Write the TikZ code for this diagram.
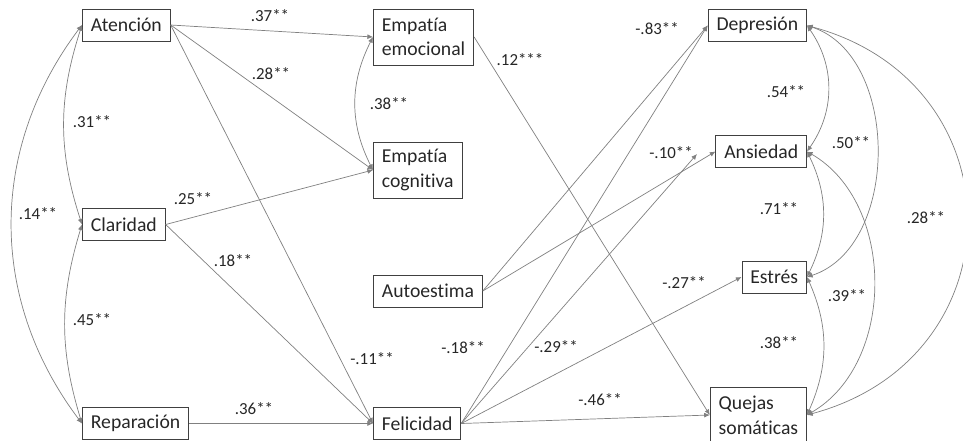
\documentclass[tikz,border=0pt]{standalone}
\usepackage{fontspec}
\setmainfont{Carlito}[Ligatures=NoCommon]
\usetikzlibrary{arrows.meta}
\definecolor{linegray}{HTML}{808080}
\definecolor{boxgray}{HTML}{404040}
\begin{document}
\begin{tikzpicture}[x=0.025cm,y=-0.025cm,
    box/.style={draw=boxgray, line width=0.6pt, inner xsep=6pt, minimum height=0.8cm, text=black!85, font=\fontsize{14}{17.5}\selectfont},
    box2/.style={box, align=left, minimum height=1.4cm},
    lab/.style={inner sep=0pt, text=black!85, font=\fontsize{12}{14}\selectfont},
    regarrow/.style={draw=linegray, line width=0.5pt, -{Latex[length=4pt,width=3.5pt]}},
    corarrow/.style={draw=linegray, line width=0.5pt, {Latex[length=4pt,width=3.5pt]}-{Latex[length=4pt,width=3.5pt]}}]
    \useasboundingbox (0,0) rectangle (963,441);
    \node[box, anchor=west] (aten) at (82,25) {Atención};
    \node[box, anchor=west] (clar) at (82,224.5) {Claridad};
    \node[box, anchor=west] (repa) at (82,423.5) {Reparación};
    \node[box2, anchor=west] (empem) at (373,37) {Empatía\\emocional};
    \node[box2, anchor=west] (empcog) at (373,170) {Empatía\\cognitiva};
    \node[box, anchor=west] (auto) at (373,291) {Autoestima};
    \node[box, anchor=west] (feli) at (373,423.5) {Felicidad};
    \node[box, anchor=east] (dep) at (807,25.5) {Depresión};
    \node[box, anchor=east] (ans) at (807,151.5) {Ansiedad};
    \node[box, anchor=east] (est) at (807,277) {Estrés};
    \node[box2, anchor=east] (que) at (807,415) {Quejas\\somáticas};
    \coordinate (ansin) at (697,154);

    \draw[regarrow] (aten.east) -- (empem.west);
    \draw[regarrow] (aten.east) -- (empcog.west);
    \draw[regarrow] (aten.east) -- (feli.west);
    \draw[regarrow] (clar.east) -- (empcog.west);
    \draw[regarrow] (clar.east) -- (feli.west);
    \draw[regarrow] (repa.east) -- (feli.west);
    \draw[regarrow] (empem.east) -- (que.west);
    \draw[regarrow] (auto.east) -- (dep.west);
    \draw[regarrow] (auto.east) -- (ans.west);
    \draw[regarrow] (feli.east) -- (dep.west);
    \draw[regarrow] (feli.east) -- (ansin);
    \draw[regarrow] (feli.east) -- (est.west);
    \draw[regarrow] (feli.east) -- (que.west);

    \draw[corarrow] (aten.west) to[bend right=18] (clar.west);
    \draw[corarrow] (clar.west) to[bend right=17] (repa.west);
    \draw[corarrow] (aten.west) to[bend right=37] (repa.west);
    \draw[corarrow] (empem.west) to[bend right=27] (empcog.west);
    \draw[corarrow] (dep.east) to[bend left=35] (ans.east);
    \draw[corarrow] (dep.east) to[bend left=72] (est.east);
    \draw[corarrow] (dep.east) to[bend left=75, looseness=1.45] (que.east);
    \draw[corarrow] (ans.east) to[bend left=26] (est.east);
    \draw[corarrow] (ans.east) to[bend left=60] (que.east);
    \draw[corarrow] (est.east) to[bend left=24] (que.east);

    \node[lab] (l37) at (270,16) {.37**};
    \node[lab] (l28) at (271,74) {.28**};
    \node[lab] (l31) at (92,122) {.31**};
    \node[lab] (l25) at (193,199) {.25**};
    \node[lab] (l14) at (38,214) {.14**};
    \node[lab] (l18) at (233,261) {.18**};
    \node[lab] (l45) at (92,320) {.45**};
    \node[lab] (l36) at (254,409) {.36**};
    \node[lab] (l38e) at (389,104) {.38**};
    \node[lab] (l12) at (520,60) {.12***};
    \node[lab] (l83) at (657,29) {-.83**};
    \node[lab] (l10) at (671,153) {-.10**};
    \node[lab] (l11) at (372,359) {-.11**};
    \node[lab] (lm18) at (463,348) {-.18**};
    \node[lab] (l29) at (556,347) {-.29**};
    \node[lab] (l46) at (600,400) {-.46**};
    \node[lab] (l27) at (684,283) {-.27**};
    \node[lab] (l54) at (786,92) {.54**};
    \node[lab] (l50) at (851,143) {.50**};
    \node[lab] (l71) at (779,209) {.71**};
    \node[lab] (l28r) at (926,218) {.28**};
    \node[lab] (l39) at (847,296) {.39**};
    \node[lab] (l38r) at (779,343) {.38**};
\end{tikzpicture}
\end{document}
